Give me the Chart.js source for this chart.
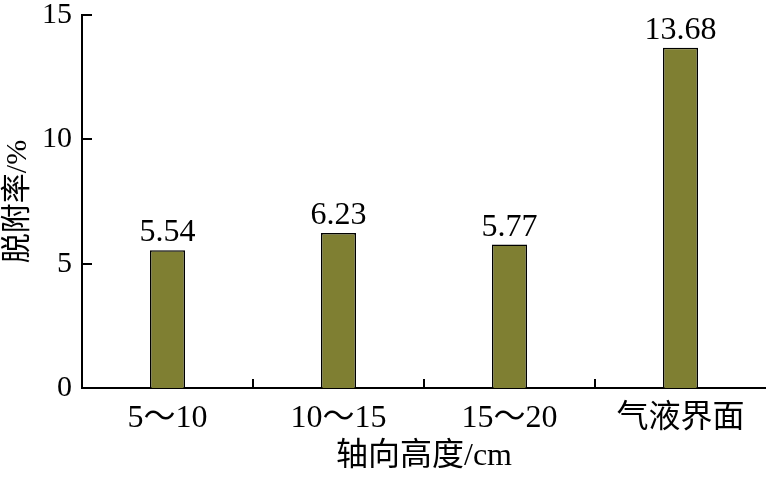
<!DOCTYPE html>
<html>
<head>
<meta charset="utf-8">
<script src="https://cdn.jsdelivr.net/npm/chart.js@4"></script>
<style>
  html, body { margin: 0; padding: 0; background: #fff; }
  #wrap { width: 766px; height: 478px; }
</style>
</head>
<body>
<div id="wrap"><canvas id="c"></canvas></div>
<script>
var categories = ['5～10', '10～15', '15～20', '气液界面'];
var values = [5.54, 6.23, 5.77, 13.68];
var yTicks = [0, 5, 10, 15];

var FONT = "'Liberation Serif', 'Times New Roman', 'Noto Sans CJK SC', serif";

// ticks pointing into the plot + value labels above bars
var extras = {
  id: 'extras',
  afterDraw: function(chart) {
    var ctx = chart.ctx;
    var xs = chart.scales.x, ys = chart.scales.y;
    var area = chart.chartArea;
    ctx.save();
    ctx.strokeStyle = '#000';
    ctx.lineWidth = 2;
    ctx.beginPath();
    yTicks.forEach(function(v) {
      var y = Math.round(ys.getPixelForValue(v));
      ctx.moveTo(area.left, y);
      ctx.lineTo(area.left + 10, y);
    });
    for (var i = 1; i < categories.length; i++) {
      var x = Math.round((xs.getPixelForTick(i - 1) + xs.getPixelForTick(i)) / 2);
      ctx.moveTo(x, area.bottom);
      ctx.lineTo(x, area.bottom - 9);
    }
    ctx.stroke();

    ctx.fillStyle = '#000';
    ctx.font = '32px ' + FONT;
    ctx.textAlign = 'center';
    ctx.textBaseline = 'alphabetic';
    chart.getDatasetMeta(0).data.forEach(function(bar, i) {
      ctx.fillText(values[i].toFixed(2), bar.x, bar.y - 9);
    });
    ctx.restore();
  }
};

var ctx1 = document.getElementById('c');
var myChart1 = new Chart(ctx1, {
  type: 'bar',
  data: {
    labels: categories,
    datasets: [{
      data: values,
      backgroundColor: '#7f7f32',
      borderColor: '#000',
      borderWidth: 1.5,
      categoryPercentage: 1,
      barPercentage: 0.205
    }]
  },
  options: {
    responsive: true,
    maintainAspectRatio: false,
    animation: false,
    layout: { padding: 0 },
    plugins: { legend: { display: false }, tooltip: { enabled: false } },
    scales: {
      x: {
        grid: { display: false, drawTicks: false },
        border: { color: '#000', width: 2 },
        ticks: { color: '#000', padding: 11, font: { family: FONT, size: 32 } },
        title: {
          display: true, text: '轴向高度/cm', color: '#000',
          font: { family: FONT, size: 32 }, padding: { top: 0, bottom: 2 }
        },
        afterFit: function(s) { s.height = 90; }
      },
      y: {
        min: 0, max: 15,
        afterBuildTicks: function(s) { s.ticks = yTicks.map(function(v) { return { value: v }; }); },
        grid: { display: false, drawTicks: false },
        border: { color: '#000', width: 2 },
        ticks: { color: '#000', padding: 10, font: { family: FONT, size: 30 } },
        title: {
          display: true, text: '脱附率/%', color: '#000',
          font: { family: FONT, size: 30 }, padding: 0
        },
        afterFit: function(s) { s.width = 82; s.paddingTop = 15; }
      }
    }
  },
  plugins: [extras]
});
</script>
</body>
</html>
